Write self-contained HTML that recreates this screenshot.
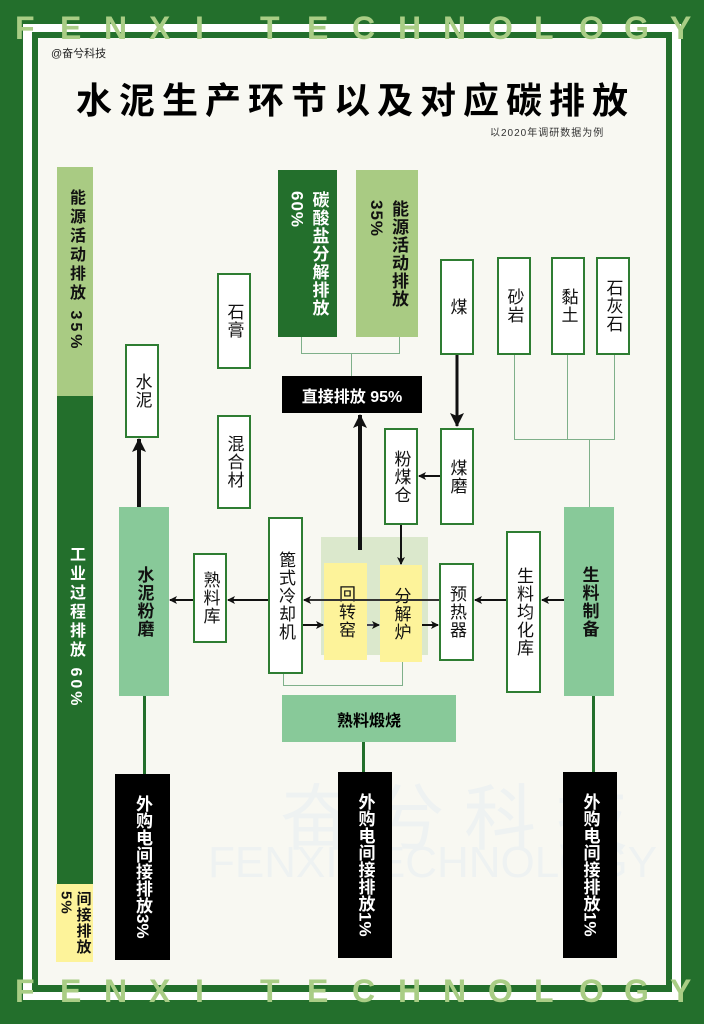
<!DOCTYPE html>
<html><head><meta charset="utf-8"><style>
*{margin:0;padding:0;box-sizing:border-box}
body{width:704px;height:1024px;background:#236f2c;position:relative;overflow:hidden;font-family:"Liberation Sans","Noto Sans CJK SC",sans-serif}
.a{position:absolute}
.wm{position:absolute;left:0;width:704px;color:#a9cd85;font-weight:bold;font-size:32px;}
.wm span{position:absolute;top:0}
.box{position:absolute;background:#fff;border:2px solid #2e7d32;display:flex;align-items:center;justify-content:center;writing-mode:vertical-rl;font-size:17px;color:#111;letter-spacing:1px}
.g{background:#88c999;border:none;font-weight:bold}
.y{background:#fdf39a;border:none}
.blk{position:absolute;background:#000;color:#fff;font-weight:bold;display:flex;align-items:center;justify-content:center;writing-mode:vertical-rl;font-size:17px}
.ln{position:absolute;background:#7fb08a}
.dg{position:absolute;background:#236f2c}
</style></head><body>
<div class="a" style="left:23px;top:24px;width:658px;height:976px;background:#fff"></div>
<div class="a" style="left:32px;top:32px;width:640px;height:960px;background:#236f2c"></div>
<div class="a" style="left:38px;top:38px;width:628px;height:947px;background:#f8f8f2"></div>
<div class="wm" style="top:10px"><span style="left:15px">F</span><span style="left:60px">E</span><span style="left:104px">N</span><span style="left:149px">X</span><span style="left:195px">I</span><span style="left:260px">T</span><span style="left:307px">E</span><span style="left:352px">C</span><span style="left:398px">H</span><span style="left:443px">N</span><span style="left:488px">O</span><span style="left:534px">L</span><span style="left:579px">O</span><span style="left:624px">G</span><span style="left:670px">Y</span></div>
<div class="wm" style="top:973px"><span style="left:15px">F</span><span style="left:60px">E</span><span style="left:104px">N</span><span style="left:149px">X</span><span style="left:195px">I</span><span style="left:260px">T</span><span style="left:307px">E</span><span style="left:352px">C</span><span style="left:398px">H</span><span style="left:443px">N</span><span style="left:488px">O</span><span style="left:534px">L</span><span style="left:579px">O</span><span style="left:624px">G</span><span style="left:670px">Y</span></div>

<div class="a" style="left:280px;top:760px;font-size:72px;color:#eef2f2;letter-spacing:20px">奋兮科技</div>
<div class="a" style="left:208px;top:838px;font-size:44px;color:#eef2f2">FENXI TECHNOLOGY</div>

<div class="a" style="left:51px;top:45px;font-size:11px;color:#222">@奋兮科技</div>
<div class="a" style="left:0;width:704px;top:72px;text-align:center;font-size:36px;font-weight:bold;letter-spacing:7px;padding-left:7px;color:#000">水泥生产环节以及对应碳排放</div>
<div class="a" style="left:490px;top:124px;font-size:10px;color:#333;letter-spacing:1px">以2020年调研数据为例</div>

<!-- left bar -->
<div class="box" style="left:57px;top:167px;width:36px;height:229px;background:#a9cb83;border:none;font-weight:bold;font-size:16px;justify-content:flex-start;padding-top:22px;letter-spacing:3px">能源活动排放 35%</div>
<div class="box" style="left:57px;top:396px;width:36px;height:488px;background:#236f2c;border:none;color:#fff;font-weight:bold;font-size:16px;justify-content:flex-start;padding-top:150px;letter-spacing:3px">工业过程排放 60%</div>
<div class="box y" style="left:56px;top:884px;width:37px;height:78px;font-weight:bold;font-size:15px;line-height:17px">间接排放<br>5%</div>

<!-- top emissions -->
<div class="box" style="left:278px;top:170px;width:59px;height:167px;background:#236f2c;border:none;color:#fff;font-weight:bold;line-height:22px">碳酸盐分解排放<br>60%</div>
<div class="box" style="left:356px;top:170px;width:62px;height:167px;background:#a9cb83;border:none;font-weight:bold;line-height:22px">能源活动排放<br>35%</div>
<div class="ln" style="left:301px;top:337px;width:1px;height:17px"></div>
<div class="ln" style="left:399px;top:337px;width:1px;height:17px"></div>
<div class="ln" style="left:301px;top:353px;width:99px;height:1px"></div>
<div class="ln" style="left:351px;top:353px;width:1px;height:23px"></div>
<div class="a" style="left:282px;top:376px;width:140px;height:37px;background:#000;color:#fff;font-weight:bold;font-size:16px;display:flex;align-items:center;justify-content:center">直接排放 95%</div>

<!-- boxes -->
<div class="box" style="left:125px;top:344px;width:34px;height:94px">水泥</div>
<div class="box" style="left:217px;top:273px;width:34px;height:96px">石膏</div>
<div class="box" style="left:217px;top:415px;width:34px;height:94px">混合材</div>
<div class="box g" style="left:119px;top:507px;width:50px;height:189px">水泥粉磨</div>
<div class="box" style="left:193px;top:553px;width:34px;height:90px">熟料库</div>
<div class="box" style="left:268px;top:517px;width:35px;height:157px">篦式冷却机</div>
<div class="a" style="left:321px;top:537px;width:107px;height:118px;background:#dbe8cc"></div>
<div class="box y" style="left:324px;top:563px;width:43px;height:97px">回转窑</div>
<div class="box y" style="left:380px;top:565px;width:42px;height:97px">分解炉</div>
<div class="box" style="left:439px;top:563px;width:35px;height:98px">预热器</div>
<div class="box" style="left:506px;top:531px;width:35px;height:162px">生料均化库</div>
<div class="box g" style="left:564px;top:507px;width:50px;height:189px">生料制备</div>
<div class="box" style="left:440px;top:259px;width:34px;height:96px">煤</div>
<div class="box" style="left:440px;top:428px;width:34px;height:97px">煤磨</div>
<div class="box" style="left:384px;top:428px;width:34px;height:97px">粉煤仓</div>
<div class="box" style="left:497px;top:257px;width:34px;height:98px">砂岩</div>
<div class="box" style="left:551px;top:257px;width:34px;height:98px">黏土</div>
<div class="box" style="left:596px;top:257px;width:34px;height:98px">石灰石</div>
<div class="a" style="left:282px;top:695px;width:174px;height:47px;background:#88c999;font-weight:bold;font-size:16px;display:flex;align-items:center;justify-content:center">熟料煅烧</div>

<div class="ln" style="left:514px;top:355px;width:1px;height:85px"></div>
<div class="ln" style="left:567px;top:355px;width:1px;height:85px"></div>
<div class="ln" style="left:614px;top:355px;width:1px;height:85px"></div>
<div class="ln" style="left:514px;top:439px;width:101px;height:1px"></div>
<div class="ln" style="left:589px;top:439px;width:1px;height:68px"></div>
<div class="ln" style="left:283px;top:674px;width:1px;height:12px"></div>
<div class="ln" style="left:402px;top:662px;width:1px;height:24px"></div>
<div class="ln" style="left:283px;top:685px;width:120px;height:1px"></div>

<div class="dg" style="left:143px;top:696px;width:3px;height:78px"></div>
<div class="dg" style="left:362px;top:742px;width:3px;height:30px"></div>
<div class="dg" style="left:592px;top:696px;width:3px;height:76px"></div>

<div class="blk" style="left:115px;top:774px;width:55px;height:186px">外购电间接排放3%</div>
<div class="blk" style="left:338px;top:772px;width:54px;height:186px">外购电间接排放1%</div>
<div class="blk" style="left:563px;top:772px;width:54px;height:186px">外购电间接排放1%</div>

<svg class="a" style="left:0;top:0" width="704" height="1024">
<defs><marker id="m" markerWidth="8" markerHeight="8" refX="7" refY="4" orient="auto" markerUnits="userSpaceOnUse"><path d="M0,0 L8,4 L0,8 L2,4z" fill="#111"/></marker>
<marker id="M" markerWidth="14" markerHeight="14" refX="13" refY="7" orient="auto" markerUnits="userSpaceOnUse"><path d="M0,0 L14,7 L0,14 L3,7z" fill="#111"/></marker></defs>
<g stroke="#111" stroke-width="2" fill="none">
<line x1="139" y1="507" x2="139" y2="439" stroke-width="4" marker-end="url(#M)"/>
<line x1="360" y1="550" x2="360" y2="415" stroke-width="4" marker-end="url(#M)"/>
<line x1="457" y1="355" x2="457" y2="426" stroke-width="3" marker-end="url(#M)"/>
<line x1="440" y1="476" x2="419" y2="476" marker-end="url(#m)"/>
<line x1="401" y1="525" x2="401" y2="564" marker-end="url(#m)"/>
<line x1="564" y1="600" x2="542" y2="600" marker-end="url(#m)"/>
<line x1="506" y1="600" x2="475" y2="600" marker-end="url(#m)"/>
<line x1="439" y1="600" x2="304" y2="600" stroke="#333" marker-end="url(#m)"/>
<line x1="268" y1="600" x2="228" y2="600" marker-end="url(#m)"/>
<line x1="193" y1="600" x2="170" y2="600" marker-end="url(#m)"/>
<line x1="303" y1="625" x2="323" y2="625" marker-end="url(#m)"/>
<line x1="367" y1="625" x2="379" y2="625" stroke="#445" marker-end="url(#m)"/>
<line x1="422" y1="625" x2="438" y2="625" marker-end="url(#m)"/>
</g></svg>
</body></html>
